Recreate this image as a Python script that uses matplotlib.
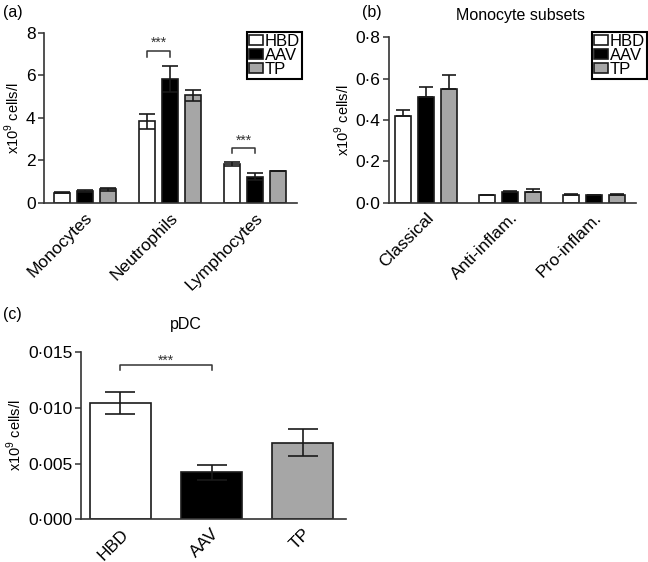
import matplotlib

matplotlib.use("Agg")
import matplotlib.pyplot as plt
import numpy as np

plt.rcParams["font.family"] = ["Liberation Sans", "DejaVu Sans"]

groups = ["HBD", "AAV", "TP"]
colors = ["white", "black", "#a6a6a6"]

# panel (a): blood counts
cells = ["Monocytes", "Neutrophils", "Lymphocytes"]
cells_mean = {
    "HBD": [0.48, 3.84, 1.82],
    "AAV": [0.58, 5.84, 1.24],
    "TP": [0.64, 5.08, 1.52],
}
cells_err = {
    "HBD": [0.03, 0.36, 0.09],
    "AAV": [0.04, 0.63, 0.16],
    "TP": [0.07, 0.26, 0.0],
}
cells_yticks = [0, 2, 4, 6, 8]

# panel (b): monocyte subsets
subsets = ["Classical", "Anti-inflam.", "Pro-inflam."]
subsets_mean = {
    "HBD": [0.419, 0.035, 0.038],
    "AAV": [0.513, 0.052, 0.035],
    "TP": [0.548, 0.052, 0.038],
}
subsets_err = {
    "HBD": [0.029, 0.002, 0.002],
    "AAV": [0.049, 0.003, 0.003],
    "TP": [0.071, 0.015, 0.006],
}
subsets_yticks = [0.0, 0.2, 0.4, 0.6, 0.8]
subsets_yticklabels = ["0·0", "0·2", "0·4", "0·6", "0·8"]

# panel (c): pDC
pdc_mean = [0.01042, 0.00422, 0.00688]
pdc_err = [0.00096, 0.00068, 0.00117]
pdc_yticks = [0.0, 0.005, 0.010, 0.015]
pdc_yticklabels = ["0·000", "0·005", "0·010", "0·015"]

ylabel = r"x10$^{\mathregular{9}}$ cells/l"
edge = "#1a1a1a"


def style_axis(ax):
    for side in ("top", "right"):
        ax.spines[side].set_visible(False)
    for side in ("left", "bottom"):
        ax.spines[side].set_linewidth(1.2)
        ax.spines[side].set_color("#333333")
    ax.tick_params(axis="y", direction="out", length=4, width=1.1, pad=2,
                   labelsize=12.5, colors="#333333", labelcolor="black")
    ax.tick_params(axis="x", length=0, pad=5, labelsize=12.5)


def bracket(ax, x0, x1, y_top, y_leg, label_y):
    ax.plot([x0, x0, x1, x1], [y_leg, y_top, y_top, y_leg],
            color="#333333", linewidth=1.1)
    ax.text((x0 + x1) / 2, label_y, "***", ha="center", va="center",
            fontsize=10, color="#333333")


def grouped(ax, means, errs, upper_only, capsize):
    x = np.arange(3)
    offsets = [-0.27, 0.0, 0.27]
    for g, off, c in zip(groups, offsets, colors):
        err = np.array(errs[g])
        yerr = [np.zeros_like(err), err] if upper_only else err
        ax.bar(x + off, means[g], width=0.19, color=c, edgecolor=edge,
               linewidth=1.2, zorder=2, label=g)
        ax.errorbar(x + off, means[g], yerr=yerr, fmt="none", ecolor=edge,
                    elinewidth=1.2, capsize=capsize, capthick=1.2, zorder=3)


def add_legend(ax, anchor):
    leg = ax.legend(loc="upper right", bbox_to_anchor=anchor,
                    bbox_transform=fig.transFigure, fontsize=12, frameon=True,
                    fancybox=False, edgecolor="black", framealpha=1,
                    handlelength=0.85, handleheight=0.55, handletextpad=0.1,
                    labelspacing=-0.05, borderpad=0.12, borderaxespad=0)
    leg.get_frame().set_linewidth(1.5)


fig = plt.figure(figsize=(6.48, 5.62), dpi=100)

# (a)
ax_a = fig.add_axes([0.0679, 0.6388, 0.3904, 0.3025])
grouped(ax_a, cells_mean, cells_err, False, 6)
ax_a.set_xlim(-0.482, 2.494)
ax_a.set_ylim(0, 8)
ax_a.set_yticks(cells_yticks)
ax_a.set_xticks(range(3))
ax_a.set_xticklabels(cells, rotation=45, ha="right", rotation_mode="anchor")
ax_a.set_ylabel(ylabel, fontsize=10.5, labelpad=3)
style_axis(ax_a)
bracket(ax_a, 0.73, 1.0, 7.17, 6.88, 7.55)
bracket(ax_a, 1.73, 2.0, 2.58, 2.35, 2.95)
add_legend(ax_a, (0.466, 0.943))
fig.text(0.005, 0.977, "(a)", fontsize=11.5, va="center")

# (b)
ax_b = fig.add_axes([0.6003, 0.6393, 0.3812, 0.2943])
grouped(ax_b, subsets_mean, subsets_err, True, 5)
ax_b.set_xlim(-0.44, 2.5)
ax_b.set_ylim(0, 0.8)
ax_b.set_yticks(subsets_yticks)
ax_b.set_yticklabels(subsets_yticklabels)
ax_b.set_xticks(range(3))
ax_b.set_xticklabels(subsets, rotation=45, ha="right", rotation_mode="anchor")
ax_b.set_ylabel(ylabel, fontsize=10.5, labelpad=3)
style_axis(ax_b)
add_legend(ax_b, (0.9985, 0.943))
fig.text(0.558, 0.977, "(b)", fontsize=11.5, va="center")
fig.text(0.803, 0.973, "Monocyte subsets", fontsize=11.5, ha="center", va="center")

# (c)
ax_c = fig.add_axes([0.125, 0.076, 0.409, 0.2977])
xc = np.arange(3)
ax_c.bar(xc, pdc_mean, width=0.68, color=colors, edgecolor=edge,
         linewidth=1.2, zorder=2)
ax_c.errorbar(xc, pdc_mean, yerr=pdc_err, fmt="none", ecolor=edge,
              elinewidth=1.2, capsize=11, capthick=1.2, zorder=3)
ax_c.set_xlim(-0.434, 2.478)
ax_c.set_ylim(0, 0.015)
ax_c.set_yticks(pdc_yticks)
ax_c.set_yticklabels(pdc_yticklabels)
ax_c.set_xticks(range(3))
ax_c.set_xticklabels(groups, rotation=45, ha="right", rotation_mode="anchor")
ax_c.set_ylabel(ylabel, fontsize=10.5, labelpad=3)
style_axis(ax_c)
bracket(ax_c, 0.0, 1.0, 0.01387, 0.01335, 0.01425)
fig.text(0.005, 0.44, "(c)", fontsize=11.5, va="center")
fig.text(0.287, 0.422, "pDC", fontsize=11.5, ha="center", va="center")

fig.savefig("out.png", dpi=100)
